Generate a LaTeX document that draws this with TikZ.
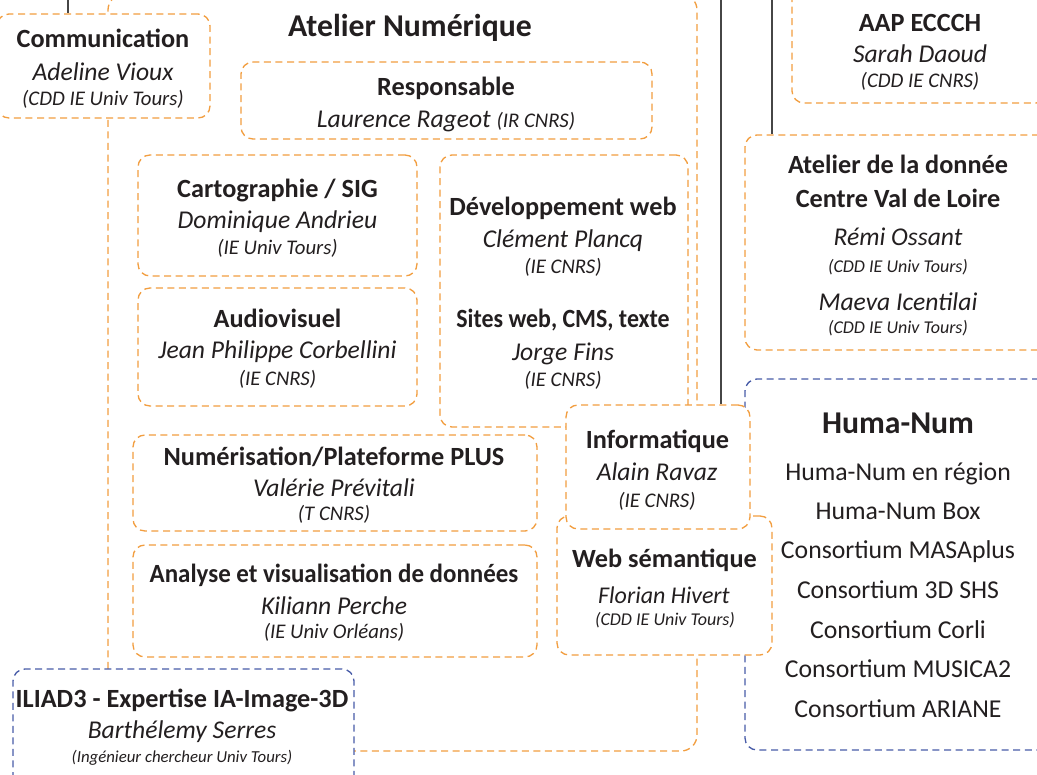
\documentclass[tikz,border=0pt]{standalone}
\usepackage{fontspec}
\usepackage{graphicx}
\setmainfont{Carlito}
\definecolor{orangeAN}{RGB}{242,158,64}
\definecolor{bleuHN}{RGB}{72,92,168}
\definecolor{encre}{RGB}{35,31,32}
\definecolor{gris}{RGB}{70,70,70}
\begin{document}
\begin{tikzpicture}[x=0.75pt, y=-0.75pt,
        cadre/.style={draw=orangeAN, line width=1pt, dash pattern=on 5.25pt off 3.4pt,
                rounded corners=9pt, fill=white, inner sep=0pt},
        cadrebleu/.style={cadre, draw=bleuHN},
        lien/.style={draw=gris, line width=1pt},
        grandtitre/.style={anchor=base, text=encre, font=\bfseries\fontsize{23.8}{28}\selectfont},
        titre/.style={anchor=base, text=encre, font=\bfseries\fontsize{19.7}{23}\selectfont},
        nom/.style={anchor=base, text=encre, font=\itshape\fontsize{19.2}{23}\selectfont},
        statut/.style={anchor=base, text=encre, font=\itshape\fontsize{15.6}{18}\selectfont},
        petit/.style={anchor=base, text=encre, font=\itshape\fontsize{13.5}{16}\selectfont},
        liste/.style={anchor=base, text=encre, font=\fontsize{19.3}{23}\selectfont}]
        \useasboundingbox (0,0) rectangle (1037,774);
        % grand cadre Atelier Numerique
        \node[cadre, rounded corners=12pt, minimum width=441.75pt, minimum height=567.75pt] (atnum) at (402.5,372.5) {};
        \node[grandtitre] (atnum-titre) at (410,37) {Atelier Numérique};
        % boites de droite
        \node[cadrebleu, minimum width=229.5pt, minimum height=278.25pt] (humanum) at (898,564.5) {};
        \node[cadre, minimum width=192pt, minimum height=92.25pt] (aap) at (920,41.5) {};
        \node[cadre, minimum width=229.5pt, minimum height=161.25pt] (donnee) at (898,242.5) {};
        % boites de l'atelier
        \node[cadre, minimum width=159.75pt, minimum height=78pt] (comm) at (103.5,66) {};
        \node[cadre, minimum width=308.25pt, minimum height=57.75pt] (respo) at (446.5,100.5) {};
        \node[cadre, minimum width=209.25pt, minimum height=90.75pt] (carto) at (277.5,215.5) {};
        \node[cadre, minimum width=209.25pt, minimum height=88.5pt] (audio) at (277.5,347) {};
        \node[cadre, minimum width=186pt, minimum height=204pt] (devweb) at (564,291) {};
        \node[cadre, minimum width=303pt, minimum height=72pt] (numer) at (335,483) {};
        \node[cadre, minimum width=303pt, minimum height=84pt] (analyse) at (335,601) {};
        \node[cadre, minimum width=161.25pt, minimum height=104.25pt] (websem) at (664.5,585.5) {};
        \node[cadre, minimum width=138pt, minimum height=93pt] (info) at (658,467) {};
        \node[cadrebleu, minimum width=255.75pt, minimum height=98.25pt] (iliad) at (183.5,734.5) {};
        % liens
        \coordinate (haut1) at (68,-2);
        \coordinate (haut2) at (721,-2);
        \coordinate (haut3) at (772,-2);
        \draw[lien] (haut1) -- (haut1 |- comm.north);
        \draw[lien] (haut2) -- (haut2 |- info.north);
        \draw[lien] (haut3) -- (haut3 |- donnee.north);
        % textes
        \node[titre] (comm-titre) at (103,48) {Communication};
        \node[nom] (comm-nom) at (103,80) {Adeline Vioux};
        \node[statut] (comm-statut) at (103,105) {(CDD IE Univ Tours)};
        \node[titre] (respo-titre) at (446,95) {Responsable};
        \node[nom] (respo-nom) at (446,127) {Laurence Rageot {\fontsize{15.6}{18}\selectfont(IR CNRS)}};
        \node[titre] (carto-titre) at (277.5,197) {Cartographie / SIG};
        \node[nom] (carto-nom) at (277.5,228) {Dominique Andrieu};
        \node[statut] (carto-statut) at (277.5,254) {(IE Univ Tours)};
        \node[titre] (audio-titre) at (277.5,327) {Audiovisuel};
        \node[nom] (audio-nom) at (277.5,358) {Jean Philippe Corbellini};
        \node[statut] (audio-statut) at (277.5,385) {(IE CNRS)};
        \node[titre] (dev-titre) at (563,215) {Développement web};
        \node[nom] (dev-nom) at (563,247) {Clément Plancq};
        \node[statut] (dev-statut) at (563,273) {(IE CNRS)};
        \node[titre] (sites-titre) at (563,327) {\scalebox{0.91}[1]{Sites web, CMS, texte}};
        \node[nom] (sites-nom) at (563,360) {Jorge Fins};
        \node[statut] (sites-statut) at (563,386) {(IE CNRS)};
        \node[titre] (numer-titre) at (334,465) {Numérisation/Plateforme PLUS};
        \node[nom] (numer-nom) at (334,496) {Valérie Prévitali};
        \node[statut] (numer-statut) at (334,520) {(T CNRS)};
        \node[titre] (analyse-titre) at (334,582) {\scalebox{0.95}[1]{Analyse et visualisation de données}};
        \node[nom] (analyse-nom) at (334,614) {Kiliann Perche};
        \node[statut] (analyse-statut) at (334,638) {(IE Univ Orléans)};
        \node[titre] (info-titre) at (657.5,448) {Informatique};
        \node[nom] (info-nom) at (657,480) {Alain Ravaz};
        \node[statut] (info-statut) at (657,507) {(IE CNRS)};
        \node[titre] (websem-titre) at (664.5,567) {Web sémantique};
        \node[nom, font=\itshape\fontsize{18}{21}\selectfont] (websem-nom) at (664,603) {Florian Hivert};
        \node[petit] (websem-statut) at (665,625) {(CDD IE Univ Tours)};
        \node[titre] (iliad-titre) at (182,707) {ILIAD3 - Expertise IA-Image-3D};
        \node[nom] (iliad-nom) at (182,738) {Barthélemy Serres};
        \node[petit, font=\itshape\fontsize{12.6}{15}\selectfont] (iliad-statut) at (182,762) {(Ingénieur chercheur Univ Tours)};
        \node[titre] (aap-titre) at (920,32) {AAP ECCCH};
        \node[nom] (aap-nom) at (920,63) {Sarah Daoud};
        \node[statut] (aap-statut) at (920,87) {(CDD IE CNRS)};
        \node[titre] (donnee-titre) at (898,173) {Atelier de la donnée};
        \node[titre] (donnee-titre2) at (898,207) {Centre Val de Loire};
        \node[nom] (donnee-nom1) at (898,245) {Rémi Ossant};
        \node[petit] (donnee-statut1) at (898,272) {(CDD IE Univ Tours)};
        \node[nom] (donnee-nom2) at (898,310) {Maeva Icentilai};
        \node[petit] (donnee-statut2) at (898,333) {(CDD IE Univ Tours)};
        \node[grandtitre] (hn-titre) at (898,433) {Huma-Num};
        \node[liste] (hn-1) at (898,480) {Huma-Num en région};
        \node[liste] (hn-2) at (898,519) {Huma-Num Box};
        \node[liste] (hn-3) at (898,558) {Consortium MASAplus};
        \node[liste] (hn-4) at (898,598) {Consortium 3D SHS};
        \node[liste] (hn-5) at (898,638) {Consortium Corli};
        \node[liste] (hn-6) at (898,677) {Consortium MUSICA2};
        \node[liste] (hn-7) at (898,717) {Consortium ARIANE};
\end{tikzpicture}
\end{document}
